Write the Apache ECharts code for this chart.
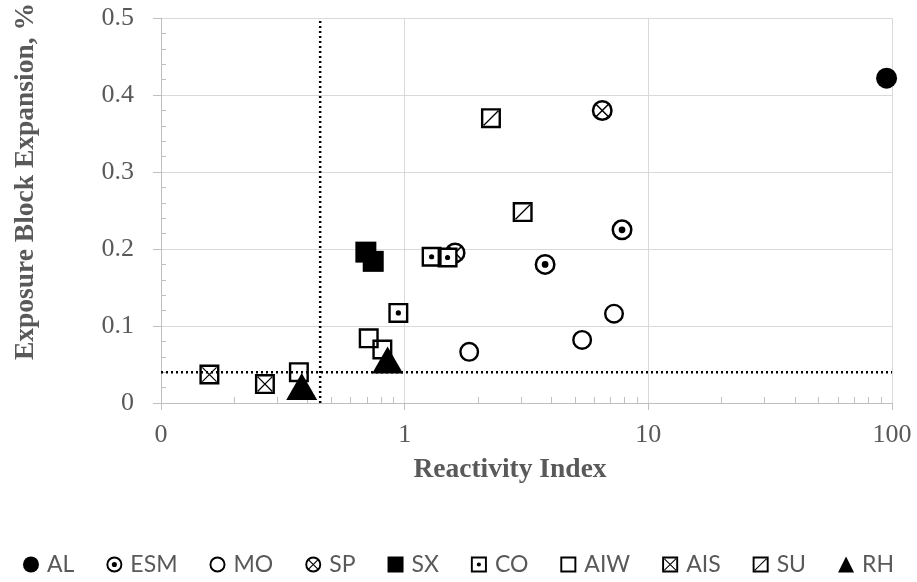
<!DOCTYPE html>
<html><head><meta charset="utf-8">
<script src="https://cdn.jsdelivr.net/npm/echarts@6/dist/echarts.min.js"></script>
<style>html,body{margin:0;padding:0;background:#fff}#c{width:917px;height:582px}</style>
</head><body><div id="c"></div>
<script>
// ---- data ----
const seriesNames = ['AL','ESM','MO','SP','SX','CO','AIW','AIS','SU','RH'];
const AL  = [[95, 0.422]];
const ESM = [[3.77, 0.180], [7.8, 0.225]];
const MO  = [[1.84, 0.0665], [5.35, 0.082], [7.23, 0.116]];
const SP  = [[6.47, 0.38], [1.61, 0.195]];
const SX  = [[0.693, 0.196], [0.743, 0.184]];
const CO  = [[1.29, 0.190], [1.50, 0.189], [0.942, 0.117]];
const AIW = [[0.712, 0.084], [0.81, 0.0695], [0.368, 0.040]];
const AIS = [[0.158, 0.037], [0.267, 0.0246]];
const SU  = [[2.26, 0.37], [3.05, 0.248]];
const RH  = [[0.378, 0.0214], [0.851, 0.0557]];
const refX = 0.45;   // vertical dotted threshold (Reactivity Index)
const refY = 0.04;   // horizontal dotted threshold (expansion %)
const xMin = 0.1, xMax = 100;
const yMin = 0, yMax = 0.5, yInterval = 0.1;
const xMinorTicks = [0.2,0.3,0.4,0.5,0.6,0.7,0.8,0.9,2,3,4,5,6,7,8,9,20,30,40,50,60,70,80,90];
const yMinorTicks = [0.02,0.04,0.06,0.08,0.12,0.14,0.16,0.18,0.22,0.24,0.26,0.28,0.32,0.34,0.36,0.38,0.42,0.44,0.46,0.48];
const dataByName = {AL, ESM, MO, SP, SX, CO, AIW, AIS, SU, RH};

// ---- symbol shapes ----
const SQ_RING = 'M0 0 L100 0 L100 100 L0 100 Z M12 12 L12 88 L88 88 L88 12 Z ';
const CI_RING = 'M0 50 A50 50 0 1 1 100 50 A50 50 0 1 1 0 50 Z M12 50 A38 38 0 1 0 88 50 A38 38 0 1 0 12 50 Z ';
const DOT_C = 'M34 50 A16 16 0 1 1 66 50 A16 16 0 1 1 34 50 Z ';
const DOT_S = 'M37 50 A13 13 0 1 1 63 50 A13 13 0 1 1 37 50 Z ';
const X_C = 'M20 25 L25 20 L80 75 L75 80 Z M75 20 L80 25 L25 80 L20 75 Z ';
const X_S = 'M12 16.5 L16.5 12 L88 83.5 L83.5 88 Z M83.5 12 L88 16.5 L16.5 88 L12 83.5 Z ';
const SL_S = 'M83.5 12 L88 16.5 L16.5 88 L12 83.5 Z ';
const styles = {
  AL:  {symbol:'circle', size:21},
  ESM: {symbol:'path://'+CI_RING+DOT_C, size:21, bg:'circle'},
  MO:  {symbol:'path://'+CI_RING, size:20, bg:'circle'},
  SP:  {symbol:'path://'+CI_RING+X_C, size:21, bg:'circle'},
  SX:  {symbol:'rect', size:21},
  CO:  {symbol:'path://'+SQ_RING+DOT_S, size:20, bg:'rect'},
  AIW: {symbol:'path://'+SQ_RING, size:20, bg:'rect'},
  AIS: {symbol:'path://'+SQ_RING+X_S, size:20, bg:'rect'},
  SU:  {symbol:'path://'+SQ_RING+SL_S, size:20, bg:'rect'},
  RH:  {symbol:'triangle', size:[31,27]}
};

const series = [
  {name:'refV', type:'line', data:[[refX, yMin],[refX, yMax]], symbol:'none', silent:true,
   lineStyle:{color:'#000', width:2.5, type:[2,3]}},
  {name:'refH', type:'line', data:[[xMin, refY],[xMax, refY]], symbol:'none', silent:true,
   lineStyle:{color:'#000', width:2.5, type:[2,3]}}
];
seriesNames.forEach(n => {
  const st = styles[n];
  if (st.bg) {
    series.push({name:n+'_bg', type:'scatter', data:dataByName[n], symbol:st.bg,
      symbolSize:(typeof st.size==='number'? st.size-2 : st.size), silent:true,
      itemStyle:{color:'#fff', opacity:1}});
  }
  series.push({name:n, type:'scatter', data:dataByName[n], symbol:st.symbol, symbolSize:st.size,
    itemStyle:{color:'#000', opacity:1}});
});

const chart = echarts.init(document.getElementById('c'));
chart.setOption({
  animation:false,
  backgroundColor:'#fff',
  grid:{left:161, right:25, top:17, bottom:179, containLabel:false},
  legend:{
    data:seriesNames, left:'center', top:548, itemWidth:16, itemHeight:16, itemGap:32,
    textStyle:{fontFamily:'Lato', fontSize:23, color:'#595959', padding:[0,0,0,3]}
  },
  xAxis:[{
    type:'log', logBase:10, min:xMin, max:xMax,
    name:'Reactivity Index', nameLocation:'middle', nameGap:53,
    nameTextStyle:{fontFamily:'Liberation Serif', fontWeight:'bold', fontSize:27.5, color:'#595959', padding:[0,33,0,0]},
    axisLine:{show:true, lineStyle:{color:'#BFBFBF', width:1}},
    axisTick:{show:true, length:7, lineStyle:{color:'#BFBFBF'}},
    axisLabel:{fontFamily:'Liberation Serif', fontSize:26, color:'#595959', margin:19,
      formatter:v => (v < 1 ? '0' : String(Math.round(v)))},
    splitLine:{show:true, lineStyle:{color:'#D9D9D9', width:1}}
  },{
    type:'log', logBase:10, min:xMin, max:xMax, position:'bottom',
    axisLine:{show:false}, axisLabel:{show:false}, splitLine:{show:false},
    axisTick:{show:true, inside:true, length:6, customValues:xMinorTicks, lineStyle:{color:'#BFBFBF'}}
  }],
  yAxis:[{
    type:'value', min:yMin, max:yMax, interval:yInterval,
    name:'Exposure Block Expansion, %', nameLocation:'middle', nameGap:121,
    nameTextStyle:{fontFamily:'Liberation Serif', fontWeight:'bold', fontSize:27.5, color:'#595959', padding:[0,0,0,58]},
    axisLine:{show:true, lineStyle:{color:'#BFBFBF', width:1}},
    axisTick:{show:true, length:8, lineStyle:{color:'#BFBFBF'}},
    axisLabel:{fontFamily:'Liberation Serif', fontSize:26, color:'#595959', margin:27,
      formatter:v => (v === 0 ? '0' : v.toFixed(1))},
    splitLine:{show:true, lineStyle:{color:'#D9D9D9', width:1}}
  },{
    type:'value', min:yMin, max:yMax, position:'left',
    axisLine:{show:false}, axisLabel:{show:false}, splitLine:{show:false},
    axisTick:{show:true, inside:true, length:5, customValues:yMinorTicks, lineStyle:{color:'#BFBFBF'}}
  }],
  series:series
});
</script></body></html>
